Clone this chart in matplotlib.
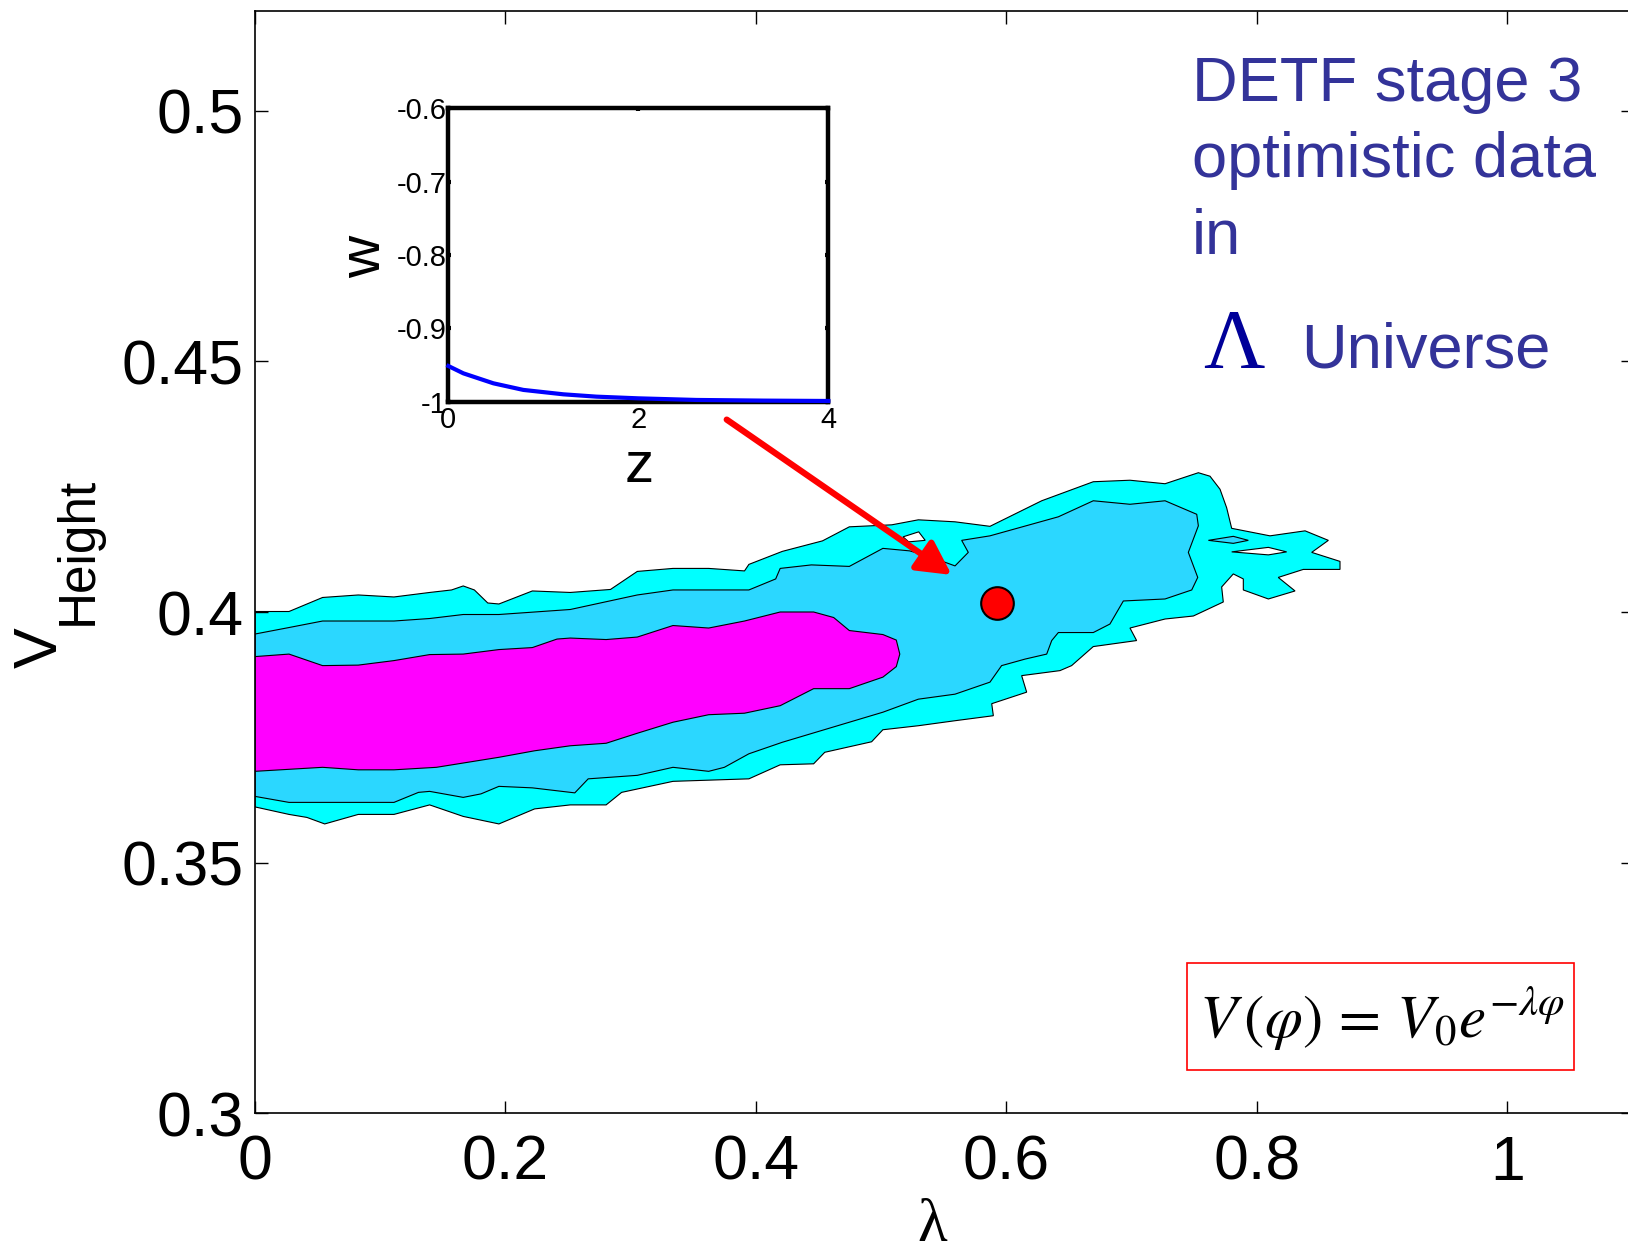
import matplotlib
matplotlib.use("Agg")
import matplotlib.pyplot as plt
from matplotlib.patches import Rectangle

plt.rcParams['font.family'] = ['Liberation Sans', 'DejaVu Sans']
plt.rcParams['mathtext.fontset'] = 'stix'

# confidence regions (lambda, V_Height)
outer_lam = [0, 0.0272, 0.054, 0.0825, 0.111, 0.1395, 0.157, 0.1663, 0.1752, 0.1859,
             0.1948, 0.2215, 0.2518, 0.2839, 0.3053, 0.3338, 0.3623, 0.3909, 0.3944, 0.4211,
             0.4532, 0.4746, 0.5085, 0.5297, 0.559, 0.5869, 0.6282, 0.6694, 0.6987, 0.7267,
             0.7533, 0.7626, 0.7706, 0.7759, 0.7799, 0.8105, 0.8385, 0.8571, 0.8438, 0.8664,
             0.8664, 0.8371, 0.8171, 0.8305, 0.8092, 0.7892, 0.7892, 0.7812, 0.7719, 0.7732,
             0.7493, 0.7267, 0.6987, 0.7040, 0.6694, 0.6521, 0.6428, 0.6122, 0.6162, 0.5883,
             0.5896, 0.559, 0.5297, 0.5014, 0.4924, 0.4550, 0.4461, 0.4194, 0.3944, 0.3338,
             0.2928, 0.2804, 0.2518, 0.2233, 0.1948, 0.1663, 0.1395, 0.111, 0.0825, 0.0557,
             0.0415, 0.0272, 0]
outer_v = [0.4001, 0.4001, 0.4029, 0.4034, 0.4030, 0.4039, 0.4044, 0.4052, 0.4044, 0.4018,
           0.4016, 0.4042, 0.4039, 0.4045, 0.4081, 0.4087, 0.4087, 0.4082, 0.4095, 0.4121,
           0.4142, 0.4170, 0.4174, 0.4184, 0.4180, 0.4171, 0.4222, 0.4260, 0.4263, 0.4256,
           0.4278, 0.4271, 0.4245, 0.4208, 0.4167, 0.4152, 0.4162, 0.4143, 0.4119, 0.4101,
           0.4085, 0.4085, 0.4069, 0.4042, 0.4026, 0.4044, 0.4066, 0.4076, 0.4050, 0.4020,
           0.3992, 0.3986, 0.3968, 0.3943, 0.3931, 0.3893, 0.3883, 0.3873, 0.3840, 0.3817,
           0.3793, 0.3783, 0.3773, 0.3765, 0.3741, 0.3720, 0.3697, 0.3695, 0.3667, 0.3662,
           0.3640, 0.3615, 0.3615, 0.3607, 0.3577, 0.3592, 0.3615, 0.3596, 0.3596, 0.3577,
           0.3590, 0.3596, 0.3611]

mid_lam = [0, 0.0272, 0.054, 0.111, 0.1395, 0.1663, 0.1948, 0.2518, 0.3053, 0.3338,
           0.3944, 0.4158, 0.4194, 0.4443, 0.4746, 0.5014, 0.5227, 0.537, 0.559, 0.5696,
           0.5643, 0.5869, 0.6415, 0.6694, 0.6987, 0.7267, 0.7520, 0.7533, 0.7453, 0.7528,
           0.7480, 0.7267, 0.6934, 0.6827, 0.6694, 0.6415, 0.6362, 0.6322, 0.6149, 0.5962,
           0.5869, 0.559, 0.5297, 0.5014, 0.4746, 0.4211, 0.3944, 0.3748, 0.3623, 0.3338,
           0.3053, 0.2661, 0.2554, 0.2215, 0.1948, 0.1805, 0.1663, 0.1395, 0.1306, 0.111,
           0.0272, 0]
mid_v = [0.3956, 0.3969, 0.3982, 0.3982, 0.3987, 0.3995, 0.3995, 0.4005, 0.4034, 0.4044,
         0.4044, 0.4066, 0.4087, 0.4094, 0.4091, 0.4127, 0.4122, 0.4112, 0.4092, 0.4119,
         0.4143, 0.4152, 0.4190, 0.4222, 0.4215, 0.4222, 0.4195, 0.4172, 0.4119, 0.4069,
         0.4044, 0.4026, 0.4022, 0.3976, 0.3959, 0.3959, 0.3943, 0.3916, 0.3906, 0.3893,
         0.3860, 0.3836, 0.3826, 0.3800, 0.3780, 0.3740, 0.3717, 0.3690, 0.3682, 0.3690,
         0.3674, 0.3667, 0.3639, 0.3649, 0.3652, 0.3637, 0.3630, 0.3642, 0.3640, 0.3620,
         0.3620, 0.3632]

inner_lam = [0, 0.0272, 0.054, 0.0825, 0.111, 0.1395, 0.1663, 0.1948, 0.2215, 0.2412,
             0.2518, 0.2804, 0.3053, 0.3338, 0.3623, 0.3909, 0.4194, 0.4461, 0.4621, 0.4746,
             0.5014, 0.5121, 0.5149, 0.5121, 0.5014, 0.4746, 0.4461, 0.4194, 0.3909, 0.3623,
             0.3338, 0.3053, 0.2804, 0.2518, 0.2233, 0.1948, 0.1449, 0.111, 0.0825, 0.054, 0]
inner_v = [0.3911, 0.3916, 0.3893, 0.3894, 0.3903, 0.3915, 0.3916, 0.3925, 0.3929, 0.3946,
           0.3948, 0.3945, 0.3950, 0.3973, 0.3968, 0.3982, 0.4000, 0.4000, 0.3989, 0.3963,
           0.3955, 0.3944, 0.3916, 0.3891, 0.3870, 0.3847, 0.3847, 0.3813, 0.3798, 0.3795,
           0.3780, 0.3758, 0.3738, 0.3733, 0.3723, 0.3710, 0.3690, 0.3685, 0.3685, 0.3690,
           0.3682]

hole1_lam = [0.5175, 0.5300, 0.5352, 0.5220]
hole1_v = [0.4150, 0.4160, 0.4143, 0.4140]
island_lam = [0.7613, 0.7812, 0.7932, 0.7812]
island_v = [0.4143, 0.4151, 0.4143, 0.4137]
hole2_lam = [0.7799, 0.8092, 0.8238, 0.8092]
hole2_v = [0.4120, 0.4129, 0.4120, 0.4114]

best_lam, best_v = 0.5923, 0.4017
arrow_from = (0.3767, 0.4384)
arrow_to = (0.5563, 0.4074)

# inset: w(z) of the best fit
z_vals = [0, 0.158, 0.474, 0.789, 1.21, 1.56, 2.0, 2.61, 3.32, 4.0]
w_vals = [-0.9514, -0.9614, -0.975, -0.984, -0.990, -0.9932, -0.9955, -0.9977, -0.9986, -0.9991]

x_ticks = [0, 0.2, 0.4, 0.6, 0.8, 1.0]
x_labels = ['0', '0.2', '0.4', '0.6', '0.8', '1']
y_ticks = [0.3, 0.35, 0.4, 0.45, 0.5]
y_labels = ['0.3', '0.35', '0.4', '0.45', '0.5']

fig = plt.figure(figsize=(16.28, 12.52), dpi=100)
ax = fig.add_axes([0.1566, 0.1110, 0.8462, 0.8804])

ax.fill(outer_lam, outer_v, facecolor='#00FFFF', edgecolor='black', lw=0.8, zorder=1)
ax.fill(hole1_lam, hole1_v, facecolor='white', edgecolor='black', lw=0.8, zorder=1.1)
ax.fill(hole2_lam, hole2_v, facecolor='white', edgecolor='black', lw=0.8, zorder=1.1)
ax.fill(mid_lam, mid_v, facecolor='#2BD7FF', edgecolor='black', lw=0.8, zorder=1.2)
ax.fill(island_lam, island_v, facecolor='#2BD7FF', edgecolor='black', lw=0.8, zorder=1.2)
ax.fill(inner_lam, inner_v, facecolor='#FF00FF', edgecolor='black', lw=0.8, zorder=1.3)

ax.plot([best_lam], [best_v], 'o', ms=23.5, mfc='red', mec='black', mew=1.5, zorder=3)
ax.annotate('', xy=arrow_to, xytext=arrow_from,
            arrowprops=dict(arrowstyle='-|>,head_length=0.85,head_width=0.45',
                            color='red', lw=4.5, mutation_scale=24,
                            shrinkA=0, shrinkB=0), zorder=4)

ax.set_xlim(0, 1.1)
ax.set_ylim(0.3, 0.52)
ax.set_xticks(x_ticks)
ax.set_xticklabels(x_labels)
ax.set_yticks(y_ticks)
ax.set_yticklabels(y_labels)
ax.tick_params(direction='in', length=9, width=1, top=True, right=True, labelsize=45)
ax.tick_params(axis='x', pad=15)
ax.tick_params(axis='y', pad=8)
for s in ax.spines.values():
    s.set_linewidth(1.2)

fig.text(0.035, 0.4665, 'V', fontsize=44, rotation=90, rotation_mode='anchor',
         ha='left', va='baseline')
fig.text(0.0565, 0.5008, 'Height', fontsize=37, rotation=90, rotation_mode='anchor',
         ha='left', va='baseline')
fig.text(0.5725, 0.0208, 'λ', fontsize=44, family=['Liberation Serif', 'DejaVu Serif'],
         ha='center', va='center')

blue = '#333399'
fig.text(0.7322, 0.9196, 'DETF stage 3', fontsize=45.5, color=blue, va='baseline')
fig.text(0.7322, 0.8589, 'optimistic data', fontsize=45.5, color=blue, va='baseline')
fig.text(0.7322, 0.7971, 'in', fontsize=45.5, color=blue, va='baseline')
fig.text(0.7390, 0.7061, 'Λ', fontsize=61, color='#000099',
         family=['Liberation Serif', 'DejaVu Serif'], va='baseline')
fig.text(0.7990, 0.7061, 'Universe', fontsize=45.5, color=blue, va='baseline')

fig.patches.append(Rectangle((0.7293, 0.1454), 0.2375, 0.0852, transform=fig.transFigure,
                             fill=False, edgecolor='red', lw=1.2))
fig.text(0.7362, 0.1715, r'$V\,(\varphi)\,=\,V_0 e^{-\lambda\varphi}$', fontsize=44,
         va='baseline')

ins = fig.add_axes([0.2754, 0.6792, 0.2334, 0.2343])
ins.plot(z_vals, w_vals, color='#0000FF', lw=3, clip_on=False, zorder=5)
ins.set_xlim(0, 4)
ins.set_ylim(-1, -0.6)
ins.set_xticks([0, 2, 4])
ins.set_xticklabels(['0', '2', '4'])
ins.set_yticks([-1, -0.9, -0.8, -0.7, -0.6])
ins.set_yticklabels(['-1', '-0.9', '-0.8', '-0.7', '-0.6'])
ins.tick_params(direction='in', length=2.5, width=3, top=True, right=True, labelsize=21)
ins.tick_params(axis='x', pad=3)
ins.tick_params(axis='y', pad=1)
for s in ins.spines.values():
    s.set_linewidth(3.2)
ins.text(-0.22, 0.493, 'w', fontsize=42, rotation=90, ha='center', va='center',
         transform=ins.transAxes)
ins.text(0.502, -0.2215, 'z', fontsize=42, ha='center', va='center', transform=ins.transAxes)

fig.savefig('out.png', dpi=100)
